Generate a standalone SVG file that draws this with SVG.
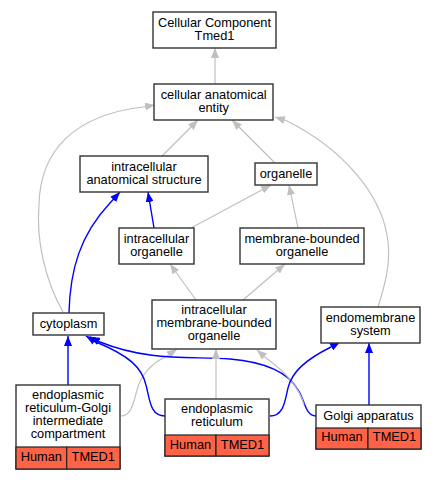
<svg xmlns="http://www.w3.org/2000/svg" width="436" height="480" viewBox="0 0 436 480">
<style>
.n{fill:#fff;stroke:#333;stroke-width:1.4}
.c{fill:#ff6347;stroke:#222;stroke-width:1.2}
.t{font-family:"Liberation Sans",Arial,sans-serif;font-size:12.8px;fill:#000;text-anchor:middle}
.g{fill:none;stroke:#c0c0c0;stroke-width:1.2;marker-end:url(#ag)}
.b{fill:none;stroke:#0000ff;stroke-width:1.4;marker-end:url(#ab)}
</style>
<defs>
<marker id="ag" viewBox="0 0 10 8" refX="10" refY="4" markerWidth="10" markerHeight="8" markerUnits="userSpaceOnUse" orient="auto"><path d="M0,0 L10,4 L0,8 z" fill="#c0c0c0"/></marker>
<marker id="ab" viewBox="0 0 10 8" refX="10" refY="4" markerWidth="10" markerHeight="8" markerUnits="userSpaceOnUse" orient="auto"><path d="M0,0 L10,4 L0,8 z" fill="#0000ff"/></marker>
</defs>
<rect width="436" height="480" fill="#fff"/>
<g id="edges">
<path class="g" d="M215,84 L215,48"/>
<path class="g" d="M162,156 L198,120"/>
<path class="g" d="M275,163 L232,120"/>
<path class="g" d="M63,312 C45,280 36,240 39,205 C40,150 75,115 143,107 L155,105"/>
<path class="g" d="M378,307 C385,285 392,260 387,235 C380,195 345,150 287,121 L275,117"/>
<path class="b" d="M154,228 L148,192"/>
<path class="b" d="M69,313 C70,270 80,235 110,203 L120,192"/>
<path class="g" d="M191,228 L271,185"/>
<path class="g" d="M298,228 L289,185"/>
<path class="g" d="M196,300 L170,264"/>
<path class="g" d="M243,300 L285,264"/>
<path class="b" d="M68,385 L68,336"/>
<path class="g" d="M121,416 C132,416 134,400 137,390 C141,375 150,364 167,356 L177,349"/>
<path class="b" d="M165,416 C150,416 150,400 146,385 C142,368 130,356 96,342 L86,336"/>
<path class="b" d="M316,416 C305,416 305,400 298,390 C288,372 265,362 230,359 C190,356 150,362 100,342 L90,337"/>
<path class="g" d="M216,399 L216,349"/>
<path class="g" d="M304,405 C300,390 290,375 266,358 L257,350"/>
<path class="b" d="M270,416 C284,416 285,400 288,388 C292,372 305,360 331,347 L340,342"/>
<path class="b" d="M369,405 L369,343"/>
</g>
<g id="n_root"><rect class="n" x="153" y="12" width="123" height="36"/><text class="t" x="214.5" y="27">Cellular Component</text><text class="t" x="214.5" y="40">Tmed1</text></g>
<g id="n_cae"><rect class="n" x="154" y="84" width="119" height="36"/><text class="t" x="213.7" y="99">cellular anatomical</text><text class="t" x="213.7" y="112">entity</text></g>
<g id="n_ias"><rect class="n" x="80" y="156" width="128" height="36"/><text class="t" x="144" y="171">intracellular</text><text class="t" x="144" y="184">anatomical structure</text></g>
<g id="n_org"><rect class="n" x="255" y="163" width="62" height="22"/><text class="t" x="286" y="178">organelle</text></g>
<g id="n_io"><rect class="n" x="119" y="228" width="75" height="36"/><text class="t" x="156.5" y="243">intracellular</text><text class="t" x="156.5" y="256">organelle</text></g>
<g id="n_mbo"><rect class="n" x="240" y="228" width="124" height="36"/><text class="t" x="302" y="243">membrane-bounded</text><text class="t" x="302" y="256">organelle</text></g>
<g id="n_imbo"><rect class="n" x="152" y="300" width="124" height="49"/><text class="t" x="214" y="314">intracellular</text><text class="t" x="214" y="327">membrane-bounded</text><text class="t" x="214" y="340">organelle</text></g>
<g id="n_cyto"><rect class="n" x="33" y="313" width="71" height="22"/><text class="t" x="68.5" y="328">cytoplasm</text></g>
<g id="n_endo"><rect class="n" x="321" y="307" width="99" height="36"/><text class="t" x="370.5" y="322">endomembrane</text><text class="t" x="370.5" y="335">system</text></g>
<g id="n_ergic">
<rect class="n" x="16" y="385" width="104" height="84"/>
<rect class="c" x="16" y="447" width="50.7" height="22"/><rect class="c" x="66.7" y="447" width="53.3" height="22"/>
<text class="t" x="68" y="399">endoplasmic</text><text class="t" x="68" y="412.3">reticulum-Golgi</text><text class="t" x="68" y="425.3">intermediate</text><text class="t" x="68" y="438.3">compartment</text>
<text class="t" x="41.3" y="461">Human</text><text class="t" x="93.3" y="461">TMED1</text>
</g>
<g id="n_er">
<rect class="n" x="165" y="399" width="104" height="57"/>
<rect class="c" x="165" y="435" width="51" height="21"/><rect class="c" x="216" y="435" width="53" height="21"/>
<text class="t" x="217" y="413.3">endoplasmic</text><text class="t" x="217" y="426.3">reticulum</text>
<text class="t" x="190.5" y="448.5">Human</text><text class="t" x="242.5" y="448.5">TMED1</text>
</g>
<g id="n_golgi">
<rect class="n" x="316" y="405" width="105" height="44"/>
<rect class="c" x="316" y="428" width="52" height="21"/><rect class="c" x="368" y="428" width="53" height="21"/>
<text class="t" x="368.5" y="419.5">Golgi apparatus</text>
<text class="t" x="342" y="441">Human</text><text class="t" x="394.5" y="441">TMED1</text>
</g>
</svg>
